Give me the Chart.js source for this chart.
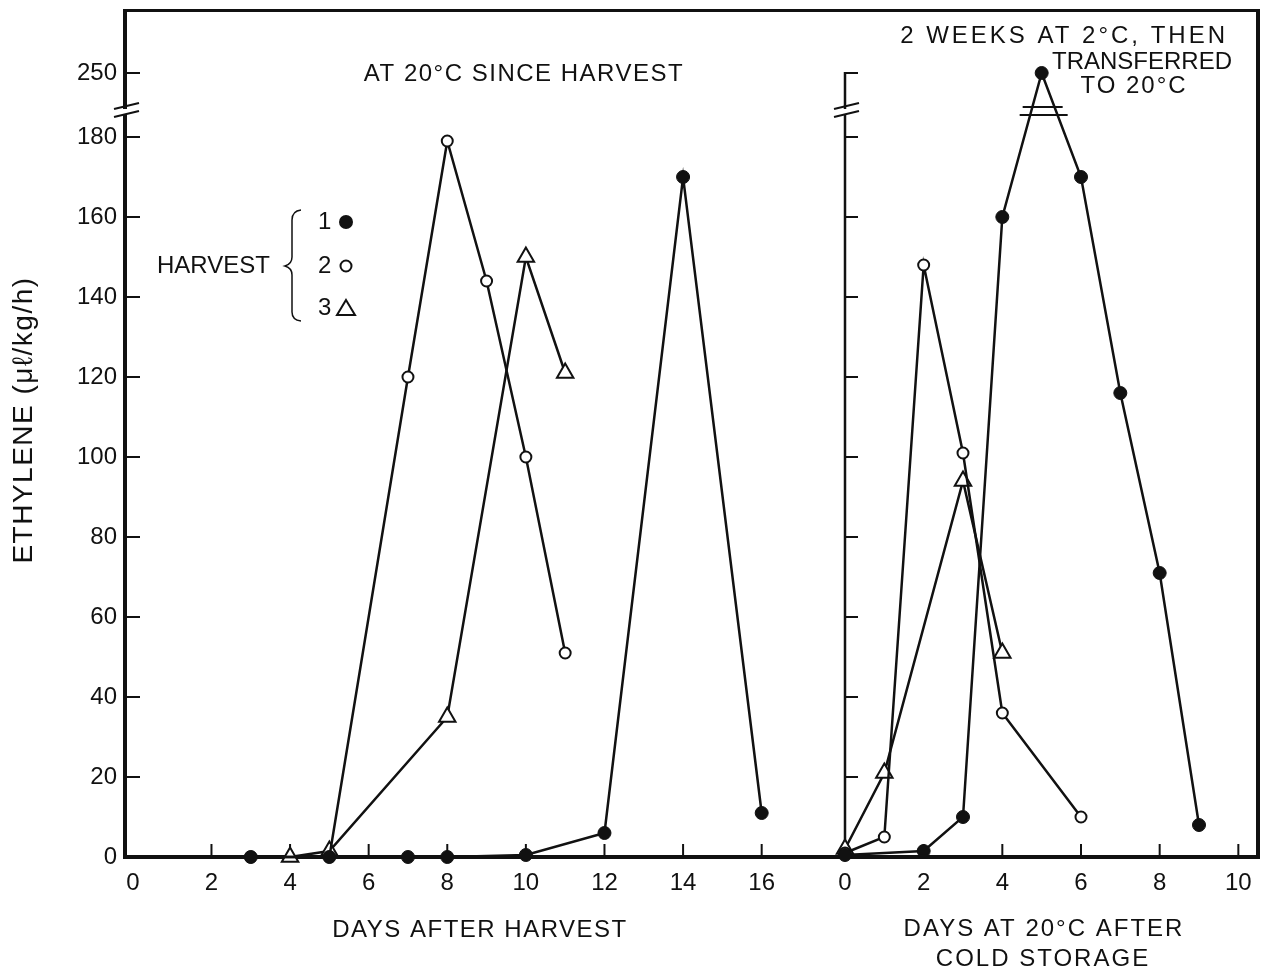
<!DOCTYPE html>
<html>
<head>
<meta charset="utf-8">
<script src="https://cdn.jsdelivr.net/npm/chart.js@4.4.1/dist/chart.umd.min.js"></script>
<style>
html, body { margin: 0; padding: 0; background: #fff; }
#wrap { position: relative; width: 1262px; height: 973px; overflow: hidden; }
#left { position: absolute; left: 0; top: 0; }
#right { position: absolute; left: 830px; top: 0; }
</style>
</head>
<body>
<div id="wrap">
  <canvas id="left" width="855" height="973"></canvas>
  <canvas id="right" width="432" height="973"></canvas>
</div>
<script>
// ---- data ----
// left panel: days after harvest, kept at 20°C
var daysH1 = [3, 5, 7, 8, 10, 12, 14, 16];
var ethH1  = [0, 0, 0, 0, 0.5, 6, 170, 11];
var daysH2 = [3, 5, 7, 8, 9, 10, 11];
var ethH2  = [0, 0, 120, 179, 144, 100, 51];
var daysH3 = [4, 5, 8, 10, 11];
var ethH3  = [0, 1.5, 35, 150, 121];

// right panel: days at 20°C after 2 weeks at 2°C
var coldDaysH1 = [0, 2, 3, 4, 5, 6, 7, 8, 9];
var coldEthH1  = [0.5, 1.5, 10, 160, 250, 170, 116, 71, 8];
var coldDaysH2 = [0, 1, 2, 3, 4, 6];
var coldEthH2  = [1, 5, 148, 101, 36, 10];
var coldDaysH3 = [0, 1, 3, 4];
var coldEthH3  = [2, 21, 94, 51];

var yTicks = [0, 20, 40, 60, 80, 100, 120, 140, 160, 180];
var yTicksAboveBreak = [250];
var xTicksHarvest = [0, 2, 4, 6, 8, 10, 12, 14, 16];
var xTicksCold = [0, 2, 4, 6, 8, 10];

// values above the axis break are drawn this much lower
var BREAK_SHIFT = 54;
function toAxis(v) { return v > 190 ? v - BREAK_SHIFT : v; }

var ink = '#111';
var fontFamily = '"Liberation Sans", Arial, sans-serif';
var allYTicks = yTicks.concat(yTicksAboveBreak);

function series(days, values, style) {
  var ds = {
    data: days.map(function (d, i) { return { x: d, y: toAxis(values[i]) }; }),
    borderColor: ink, borderWidth: 2.5, pointBorderColor: ink,
    clip: false, tension: 0
  };
  for (var k in style) ds[k] = style[k];
  return ds;
}
var filled = { pointStyle: 'circle', pointRadius: 6.5, pointBackgroundColor: ink, pointBorderWidth: 1 };
var open   = { pointStyle: 'circle', pointRadius: 5.5, pointBackgroundColor: '#fff', pointBorderWidth: 2 };
var tri    = { pointStyle: 'triangle', pointRadius: 9.5, pointBackgroundColor: '#fff', pointBorderWidth: 2 };

function label(ctx, text, x, y, align, spacing) {
  ctx.save();
  ctx.font = '24px ' + fontFamily;
  ctx.fillStyle = ink;
  ctx.textAlign = align || 'center';
  ctx.textBaseline = 'middle';
  if (spacing) ctx.letterSpacing = spacing + 'px';
  ctx.fillText(text, x, y);
  ctx.restore();
}
function line(ctx, x1, y1, x2, y2, w) {
  ctx.beginPath();
  ctx.lineWidth = w;
  ctx.moveTo(x1, y1);
  ctx.lineTo(x2, y2);
  ctx.stroke();
}
// the two slanted strokes of an axis break
function axisBreak(ctx, chart, x) {
  var y = chart.scales.y;
  var a = y.getPixelForValue(187.5), b = y.getPixelForValue(185.5);
  ctx.fillStyle = '#fff';
  ctx.fillRect(x - 4, a + 2, 8, b - a - 3);
  line(ctx, x - 11, a + 2, x + 14, a - 4, 2);
  line(ctx, x - 11, b + 2, x + 14, b - 4, 2);
}

function xScale(min, max, ticks) {
  return {
    type: 'linear', min: min, max: max,
    afterBuildTicks: function (s) { s.ticks = ticks.map(function (v) { return { value: v }; }); },
    afterFit: function (s) { s.height = 116; s.paddingLeft = 0; s.paddingRight = 0; },
    grid: { display: false, drawTicks: false, tickLength: 0 },
    border: { display: false },
    ticks: { padding: 12, color: ink, font: { family: fontFamily, size: 24 }, maxRotation: 0, autoSkip: false }
  };
}
function yScale(show, width) {
  return {
    type: 'linear', min: 0, max: 211.25, display: show,
    afterBuildTicks: function (s) { s.ticks = allYTicks.map(function (v) { return { value: toAxis(v) }; }); },
    afterFit: function (s) { s.width = width; s.paddingTop = 0; s.paddingBottom = 0; },
    grid: { display: false, drawTicks: false, tickLength: 0 },
    border: { display: false },
    ticks: {
      padding: 8, color: ink, font: { family: fontFamily, size: 24 },
      callback: function (v, i) { return String(allYTicks[i]); }
    }
  };
}

var leftFrame = {
  id: 'leftFrame',
  beforeDatasetsDraw: function (chart) {
    var ctx = chart.ctx, a = chart.chartArea, y = chart.scales.y, x = chart.scales.x;
    ctx.save();
    ctx.strokeStyle = ink;
    line(ctx, a.left, a.top - 1.5, a.right, a.top - 1.5, 3);
    line(ctx, a.left, a.top - 3, a.left, a.bottom + 2, 4);
    line(ctx, a.left, a.bottom, a.right, a.bottom, 4);
    allYTicks.forEach(function (v) {
      var py = y.getPixelForValue(toAxis(v));
      line(ctx, a.left, py, a.left + 15, py, 2);
    });
    xTicksHarvest.forEach(function (v) {
      if (v === 0) return;
      var px = x.getPixelForValue(v);
      line(ctx, px, a.bottom, px, a.bottom - 13, 2);
    });
    axisBreak(ctx, chart, a.left);
    ctx.restore();
  },
  afterDraw: function (chart) {
    var ctx = chart.ctx;
    ctx.save();
    ctx.strokeStyle = ink;
    label(ctx, 'AT 20°C SINCE HARVEST', 524, 74, 'center', 1.5);
    label(ctx, 'DAYS AFTER HARVEST', 480, 930, 'center', 1.5);
    // legend
    label(ctx, 'HARVEST', 157, 266, 'left');
    label(ctx, '1', 318, 222, 'left');
    label(ctx, '2', 318, 266, 'left');
    label(ctx, '3', 318, 308, 'left');
    ctx.beginPath();
    ctx.lineWidth = 1.5;
    ctx.moveTo(301, 210);
    ctx.quadraticCurveTo(292, 211, 292, 220);
    ctx.lineTo(292, 257);
    ctx.quadraticCurveTo(292, 264, 285, 266);
    ctx.quadraticCurveTo(292, 268, 292, 275);
    ctx.lineTo(292, 312);
    ctx.quadraticCurveTo(292, 320, 301, 321);
    ctx.stroke();
    ctx.fillStyle = ink;
    ctx.beginPath(); ctx.arc(346, 222, 7, 0, Math.PI * 2); ctx.fill();
    ctx.beginPath(); ctx.lineWidth = 2; ctx.arc(346, 266, 5.5, 0, Math.PI * 2); ctx.stroke();
    ctx.beginPath(); ctx.moveTo(346, 300); ctx.lineTo(355, 315); ctx.lineTo(337, 315); ctx.closePath(); ctx.stroke();
    // y axis title
    ctx.translate(24, 420);
    ctx.rotate(-Math.PI / 2);
    ctx.font = '28px ' + fontFamily;
    ctx.letterSpacing = '1.5px';
    ctx.textAlign = 'center';
    ctx.textBaseline = 'middle';
    ctx.fillText('ETHYLENE (μℓ/kg/h)', 0, 0);
    ctx.restore();
  }
};

var OFF = 830; // left edge of the right canvas on the page
var rightFrame = {
  id: 'rightFrame',
  beforeDatasetsDraw: function (chart) {
    var ctx = chart.ctx, a = chart.chartArea, y = chart.scales.y, x = chart.scales.x;
    var top = y.getPixelForValue(toAxis(yTicksAboveBreak[0]));
    ctx.save();
    ctx.strokeStyle = ink;
    line(ctx, a.left, a.top - 1.5, a.right + 2, a.top - 1.5, 3);
    line(ctx, a.right, a.top - 3, a.right, a.bottom + 2, 4);
    line(ctx, a.left - 5, a.bottom, a.right, a.bottom, 4);
    line(ctx, a.left, top - 1, a.left, a.bottom, 2.5);
    allYTicks.forEach(function (v) {
      var py = y.getPixelForValue(toAxis(v));
      line(ctx, a.left, py, a.left + 13, py, 2);
    });
    xTicksCold.forEach(function (v) {
      if (v === 0) return;
      var px = x.getPixelForValue(v);
      line(ctx, px, a.bottom, px, a.bottom - 13, 2);
    });
    axisBreak(ctx, chart, a.left);
    ctx.restore();
  },
  afterDraw: function (chart) {
    var ctx = chart.ctx, y = chart.scales.y, x = chart.scales.x;
    ctx.save();
    ctx.strokeStyle = ink;
    // break bars across the harvest 1 peak
    var px = x.getPixelForValue(coldDaysH1[coldEthH1.indexOf(250)]);
    var b1 = y.getPixelForValue(187.5), b2 = y.getPixelForValue(185.5);
    line(ctx, px - 19, b1, px + 21, b1, 2);
    line(ctx, px - 22, b2, px + 26, b2, 2);
    label(ctx, '2 WEEKS AT 2°C, THEN', 1228 - OFF, 36, 'right', 3);
    label(ctx, 'TRANSFERRED', 1232 - OFF, 62, 'right');
    label(ctx, 'TO 20°C', 1134 - OFF, 86, 'center', 2);
    label(ctx, 'DAYS AT 20°C AFTER', 1044 - OFF, 929, 'center', 2);
    label(ctx, 'COLD STORAGE', 1043 - OFF, 959, 'center', 2);
    ctx.restore();
  }
};

var common = {
  responsive: false, animation: false, devicePixelRatio: 1, events: [],
  plugins: { legend: { display: false }, tooltip: { enabled: false } }
};

new Chart(document.getElementById('left'), {
  type: 'line',
  data: { datasets: [
    series(daysH1, ethH1, filled),
    series(daysH2, ethH2, open),
    series(daysH3, ethH3, tri)
  ] },
  options: Object.assign({}, common, {
    layout: { autoPadding: false, padding: { left: 0, top: 12, right: 10, bottom: 0 } },
    scales: { x: xScale(-0.2, 18.12, xTicksHarvest), y: yScale(true, 125) }
  }),
  plugins: [leftFrame]
});

new Chart(document.getElementById('right'), {
  type: 'line',
  data: { datasets: [
    series(coldDaysH1, coldEthH1, filled),
    series(coldDaysH2, coldEthH2, open),
    series(coldDaysH3, coldEthH3, tri)
  ] },
  options: Object.assign({}, common, {
    layout: { autoPadding: false, padding: { left: 15, top: 12, right: 4, bottom: 0 } },
    scales: { x: xScale(0, 10.5, xTicksCold), y: yScale(false, 0) }
  }),
  plugins: [rightFrame]
});
</script>
</body>
</html>
